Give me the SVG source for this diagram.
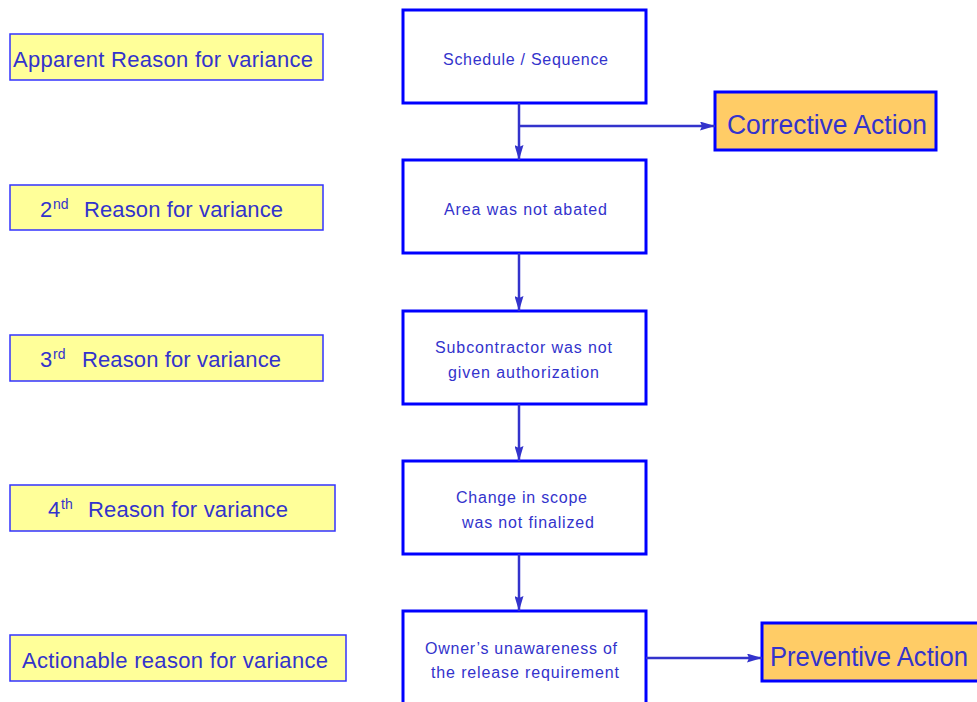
<svg xmlns="http://www.w3.org/2000/svg" width="977" height="702" viewBox="0 0 977 702">
<defs>
<marker id="ah" markerWidth="15" markerHeight="9" refX="15" refY="4.5" orient="auto" markerUnits="userSpaceOnUse">
<path d="M0,0 L15,4.5 L0,9 L2,4.5 Z" fill="#3333CC"/>
</marker>
</defs>
<style>
.lbl rect{fill:#FFFF99;stroke:#3333FF;stroke-width:1.5}
.lbl text{font-family:"Liberation Sans",Arial,sans-serif;font-size:22px;fill:#3333CC}
.node rect{fill:#FFFFFF;stroke:#0000FF;stroke-width:3}
.node text{font-family:"Liberation Sans",Arial,sans-serif;font-size:16px;fill:#3333CC}
.act rect{fill:#FFCC66;stroke:#0000FF;stroke-width:3}
.act text{font-family:"Liberation Sans",Arial,sans-serif;font-size:27px;fill:#3333CC}
.conn path{fill:none;stroke:#3333CC;stroke-width:2.5}
.sup{font-size:14px}
</style>
<rect width="977" height="702" fill="#FFFFFF"/>
<g id="lbl1" class="lbl"><rect x="10" y="34" width="313" height="46"/><text x="13" y="67" textLength="300" lengthAdjust="spacing">Apparent Reason for variance</text></g>
<g id="lbl2" class="lbl"><rect x="10" y="185" width="313" height="45"/><text x="40" y="217">2<tspan class="sup" x="53" y="209">nd</tspan><tspan x="84" y="217" textLength="199" lengthAdjust="spacing">Reason for variance</tspan></text></g>
<g id="lbl3" class="lbl"><rect x="10" y="335" width="313" height="46"/><text x="40" y="367">3<tspan class="sup" x="53" y="359">rd</tspan><tspan x="82" y="367" textLength="199" lengthAdjust="spacing">Reason for variance</tspan></text></g>
<g id="lbl4" class="lbl"><rect x="10" y="485" width="325" height="46"/><text x="48" y="517">4<tspan class="sup" x="61" y="509">th</tspan><tspan x="88" y="517" textLength="200" lengthAdjust="spacing">Reason for variance</tspan></text></g>
<g id="lbl5" class="lbl"><rect x="10" y="635" width="336" height="46"/><text x="22" y="668" textLength="306" lengthAdjust="spacing">Actionable reason for variance</text></g>
<g id="n1" class="node"><rect x="403" y="10" width="243" height="93"/><text x="443" y="65" textLength="165" lengthAdjust="spacing">Schedule / Sequence</text></g>
<g id="n2" class="node"><rect x="403" y="160" width="243" height="93"/><text x="444" y="215" textLength="163" lengthAdjust="spacing">Area was not abated</text></g>
<g id="n3" class="node"><rect x="403" y="311" width="243" height="93"/><text x="435" y="353" textLength="177" lengthAdjust="spacing">Subcontractor was not</text><text x="448" y="378" textLength="151" lengthAdjust="spacing">given authorization</text></g>
<g id="n4" class="node"><rect x="403" y="461" width="243" height="93"/><text x="456" y="503" textLength="131" lengthAdjust="spacing">Change in scope</text><text x="462" y="528" textLength="132" lengthAdjust="spacing">was not finalized</text></g>
<g id="n5" class="node"><rect x="403" y="611" width="243" height="100"/><text x="425" y="654" textLength="192" lengthAdjust="spacing">Owner’s unawareness of</text><text x="431" y="678" textLength="188" lengthAdjust="spacing">the release requirement</text></g>
<g id="corrective" class="act"><rect x="715" y="92" width="221" height="58"/><text x="727" y="134" textLength="200" lengthAdjust="spacingAndGlyphs">Corrective Action</text></g>
<g id="preventive" class="act"><rect x="762" y="623" width="230" height="58"/><text x="770" y="666" textLength="198" lengthAdjust="spacingAndGlyphs">Preventive Action</text></g>
<g id="connectors" class="conn">
<path d="M519,103 L519,160" marker-end="url(#ah)"/>
<path d="M519,126 L715,126" marker-end="url(#ah)"/>
<path d="M519,253 L519,311" marker-end="url(#ah)"/>
<path d="M519,404 L519,461" marker-end="url(#ah)"/>
<path d="M519,554 L519,611" marker-end="url(#ah)"/>
<path d="M646,658 L762,658" marker-end="url(#ah)"/>
</g>
</svg>
